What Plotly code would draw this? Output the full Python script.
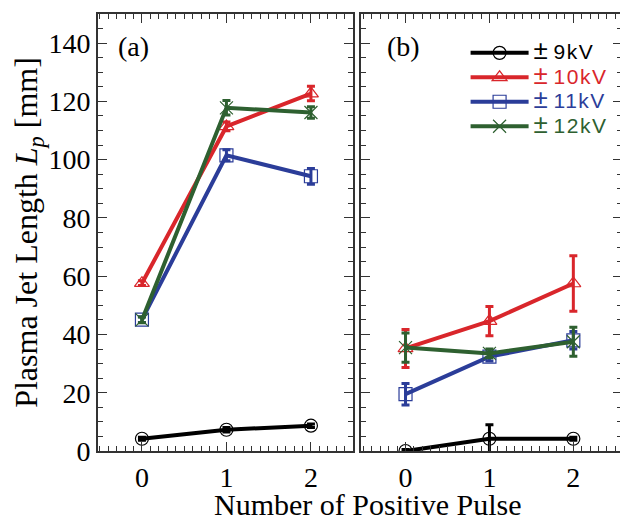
import plotly.graph_objects as go

pulses = [0, 1, 2]
series_names = ["9kV", "10kV", "11kV", "12kV"]
colors = ["#000000", "#d9262b", "#2b3d99", "#2e6030"]
symbols = ["circle-open", "triangle-up-open", "square-open", "x-thin-open"]

# panel (a)
a_vals = [[4.2, 7.3, 8.7], [57.6, 111.4, 122.7], [45.1, 101.5, 94.3], [45.0, 117.8, 116.2]]
a_err = [[0.5, 0.8, 0.6], [0.8, 1.5, 2.5], [1.0, 1.9, 2.7], [1.0, 2.5, 2.0]]
# panel (b)
b_vals = [[0.0, 4.2, 4.2], [35.2, 44.6, 57.5], [19.5, 32.4, 38.0], [35.5, 33.5, 37.5]]
b_err = [[0.5, 4.8, 0.5], [6.5, 5.0, 9.5], [3.7, 1.5, 3.0], [5.0, 1.5, 5.0]]

fig = go.Figure()
for i, name in enumerate(series_names):
    c = colors[i]
    label = ("<span style=\"color:%s;font-size:26px\">±</span>"
             "<span style=\"color:%s;font-size:21px;letter-spacing:1.5px\">\u2009%s</span>") % (c, c, name)
    common = dict(mode="lines+markers",
                  line=dict(color=c, width=4),
                  marker=dict(symbol=symbols[i], size=13, color=c,
                              line=dict(width=1.2, color=c)))
    fig.add_trace(go.Scatter(x=pulses, y=a_vals[i], xaxis="x", yaxis="y",
                             error_y=dict(type="data", array=a_err[i], color=c,
                                          thickness=3, width=4),
                             showlegend=False, **common))
    fig.add_trace(go.Scatter(x=pulses, y=b_vals[i], xaxis="x2", yaxis="y2",
                             error_y=dict(type="data", array=b_err[i], color=c,
                                          thickness=3, width=4),
                             name=label, showlegend=True, **common))

axcol = "#333333"
tickfont = dict(family="Liberation Serif", size=28, color="black")
xcommon = dict(range=[-0.52, 2.5], tickvals=[0, 1, 2], ticks="inside", ticklen=9,
               tickwidth=1.2, tickcolor=axcol, showline=True, linecolor=axcol,
               linewidth=2, mirror="ticks", showgrid=False, zeroline=False,
               tickfont=tickfont,
               minor=dict(dtick=0.1, ticks="inside", ticklen=5, tickcolor=axcol,
                          tickwidth=1, showgrid=False))
ycommon = dict(range=[0, 150], tickvals=[0, 20, 40, 60, 80, 100, 120, 140],
               ticks="inside", ticklen=9, tickwidth=1.2, tickcolor=axcol,
               showline=True, linecolor=axcol, linewidth=2, mirror="ticks",
               showgrid=False, zeroline=False, tickfont=tickfont,
               minor=dict(dtick=5, ticks="inside", ticklen=5, tickcolor=axcol,
                          tickwidth=1, showgrid=False))

fig.update_layout(
    width=620, height=515,
    margin=dict(l=90, r=4, t=4, b=72),
    paper_bgcolor="white", plot_bgcolor="white",
    xaxis=dict(domain=[0, 0.487], anchor="y", **xcommon),
    xaxis2=dict(domain=[0.502, 1], anchor="y2", **{**xcommon, "range": [-0.53, 2.58]}),
    yaxis=dict(domain=[0, 1], anchor="x",
               title=dict(text="Plasma Jet Length <i>L</i><sub><i>p</i></sub> [mm]",
                          font=dict(family="Liberation Serif", size=32, color="black"),
                          standoff=2),
               **ycommon),
    yaxis2=dict(domain=[0, 1], anchor="x2", showticklabels=False, **ycommon),
    showlegend=True,
    legend=dict(x=0.7015, y=0.9505, xanchor="left", yanchor="top",
                bgcolor="rgba(0,0,0,0)", itemwidth=58, tracegroupgap=0,
                font=dict(family="Liberation Sans", size=16.5, color="black")),
    annotations=[
        dict(text="Number of Positive Pulse", xref="paper", yref="paper",
             x=0.515, y=-0.123, xanchor="center", yanchor="middle", showarrow=False,
             font=dict(family="Liberation Serif", size=30, color="black")),
        dict(text="(a)", xref="paper", yref="paper", x=0.0337, y=0.925,
             xanchor="left", yanchor="middle", showarrow=False,
             font=dict(family="Liberation Serif", size=28, color="black")),
        dict(text="(b)", xref="paper", yref="paper", x=0.547, y=0.925,
             xanchor="left", yanchor="middle", showarrow=False,
             font=dict(family="Liberation Serif", size=28, color="black")),
    ],
)

fig.write_html("out.html")
